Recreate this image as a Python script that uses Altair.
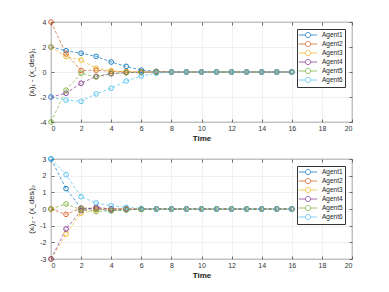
import math
import altair as alt
import pandas as pd

agents = ["Agent1", "Agent2", "Agent3", "Agent4", "Agent5", "Agent6"]
colors = ["#0072BD", "#D95319", "#EDB120", "#7E2F8E", "#77AC30", "#4DBEEE"]
time = list(range(17))

z = [0] * 9
top_a1 = [2, 1.7, 1.5, 1.25, 0.8, 0.45, 0.15, 0.05] + z
top_a2 = [4, 1.45, 0.12, 0.15, 0.05, 0.02, 0, 0] + z
top_a3 = [2, 1.25, 0.95, 0.3, 0.1, 0.02, 0, 0] + z
top_a4 = [-2, -1.7, -0.9, -0.35, -0.15, -0.05, -0.02, 0] + z
top_a5 = [-4, -1.45, -0.1, -0.4, -0.1, -0.05, -0.02, 0] + z
top_a6 = [-2, -2.25, -2.35, -1.75, -1.3, -0.72, -0.32, -0.1] + z

bot_a1 = [3, 1.22, 0.05, 0.0, -0.1, -0.05, -0.02, 0] + z
bot_a2 = [0, -0.32, 0.05, 0.05, 0.0, 0.0, 0, 0] + z
bot_a3 = [-3, -1.5, -0.25, -0.05, 0.0, 0.0, 0, 0] + z
bot_a4 = [-3, -1.2, -0.1, 0.1, 0.0, 0.0, 0, 0] + z
bot_a5 = [0, 0.3, -0.05, -0.15, -0.1, -0.05, -0.02, 0] + z
bot_a6 = [3, 2.06, 0.74, 0.36, 0.2, 0.1, 0.03, 0] + z

top_series = [top_a1, top_a2, top_a3, top_a4, top_a5, top_a6]
bot_series = [bot_a1, bot_a2, bot_a3, bot_a4, bot_a5, bot_a6]


def frame(series):
    rows = []
    for name, vals in zip(agents, series):
        for t, v in zip(time, vals):
            rows.append({"Time": t, "value": v, "Agent": name})
    return pd.DataFrame(rows)


FONT = "Liberation Sans, DejaVu Sans"

# legend glyph: short line with an open circle (16-gon) in the middle
_r = 0.75
_poly = [(_r * math.cos(2 * math.pi * k / 16), _r * math.sin(2 * math.pi * k / 16))
         for k in range(16)]
legend_path = ("M-2.6,0L-0.75,0M0.75,0L2.6,0M"
               + "L".join(f"{px:.3f},{py:.3f}" for px, py in _poly) + "Z")
TICK_IN = alt.ExprRef("-3")


def make_legend():
    return alt.Legend(
        title=None, orient="none", legendX=246, legendY=7,
        symbolType=legend_path, symbolSize=49, symbolStrokeWidth=0.9,
        symbolFillColor="transparent", symbolDash=[1, 0], symbolOffset=5,
        labelFontSize=6.5, labelFont=FONT, labelColor="#222222",
        labelOffset=10, rowPadding=alt.ExprRef("-2.2"), padding=2,
        strokeColor="#333333", fillColor="white")


def panel(series, ytitle, ydom, ystep):
    df = frame(series)
    xvals = list(range(0, 21, 2))
    yvals = list(range(ydom[0], ydom[1] + 1, ystep))
    xs = alt.Scale(domain=[0, 20], nice=False)
    ys = alt.Scale(domain=ydom, nice=False)
    x = alt.X("Time:Q", scale=xs,
              axis=alt.Axis(values=xvals, title="Time", ticks=True,
                            tickSize=TICK_IN, labelPadding=5))
    y = alt.Y("value:Q", scale=ys,
              axis=alt.Axis(values=yvals, title=ytitle, ticks=True,
                            tickSize=TICK_IN, labelPadding=8,
                            labelExpr="replace(datum.label, '\u2212', '-')"))
    cscale = alt.Scale(domain=agents, range=colors)
    lines = alt.Chart(df).mark_line(
        strokeDash=[3, 2], strokeWidth=0.8, opacity=0.85
    ).encode(x=x, y=y,
             color=alt.Color("Agent:N", scale=cscale, legend=make_legend()),
             detail="Agent:N")
    pts = alt.Chart(df).mark_point(
        filled=False, size=22, strokeWidth=0.9, opacity=1
    ).encode(x=x, y=y,
             color=alt.Color("Agent:N", scale=cscale, legend=make_legend()))
    ghost = alt.Chart(df).mark_point(opacity=0).encode(
        x=alt.X("Time:Q", scale=xs,
                axis=alt.Axis(orient="top", values=xvals, labels=False,
                              title=None, grid=False, ticks=True,
                              tickSize=TICK_IN)),
        y=alt.Y("value:Q", scale=ys,
                axis=alt.Axis(orient="right", values=yvals, labels=False,
                              title=None, grid=False, ticks=True,
                              tickSize=TICK_IN)))
    main = alt.layer(lines, pts)
    return alt.layer(main, ghost).resolve_axis(
        x="independent", y="independent"
    ).properties(width=301, height=100)


top = panel(top_series, "(x\u1d62)\u2081 - (x_des\u1d62)\u2081", [-4, 4], 2)
bot = panel(bot_series, "(x\u1d62)\u2082 - (x_des\u1d62)\u2082", [-3, 3], 1)

chart = alt.vconcat(top, bot, spacing=11).resolve_legend(
    color="independent"
).properties(
    padding={"left": 19, "top": 9, "right": 5, "bottom": 5}
).configure_view(
    stroke="#4d4d4d", strokeWidth=0.8
).configure_axis(
    grid=True, gridColor="#e6e6e6", gridWidth=0.6,
    domain=False, tickColor="#4d4d4d", tickWidth=0.8,
    labelFont=FONT, labelFontSize=7, labelColor="#333333",
    titleFont=FONT, titleColor="#222222"
).configure_axisX(
    titleFontSize=8, titleFontWeight="bold", titlePadding=3
).configure_axisY(
    titleFontSize=7.5, titleFontWeight="normal", titlePadding=4
)

chart.save("out.html", embed_options={"renderer": "svg", "actions": False})
